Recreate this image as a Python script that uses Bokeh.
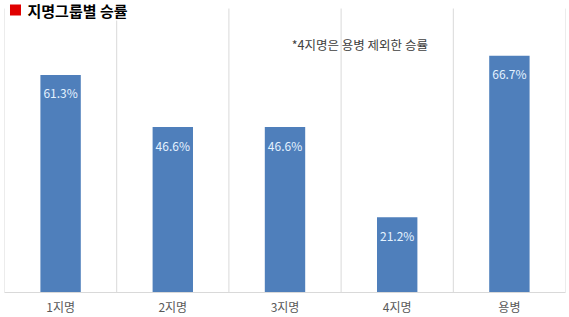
from bokeh.plotting import figure
from bokeh.models import ColumnDataSource, FixedTicker, Label, Range1d
from bokeh.core.properties import value
from bokeh.embed import file_html
from bokeh.resources import INLINE

categories = ["1지명", "2지명", "3지명", "4지명", "용병"]
win_rates = [61.3, 46.6, 46.6, 21.2, 66.7]
rate_labels = ["61.3%", "46.6%", "46.6%", "21.2%", "66.7%"]
title_text = "지명그룹별 승률"
note_text = "*4지명은 용병 제외한 승률"

FONT = "Noto Sans CJK KR"
Y_MAX = 80
Y_TOP = 82.26  # extra head-room above the grid for the title

xs = [i + 0.5 for i in range(len(categories))]
src = ColumnDataSource(dict(x=xs, top=win_rates, label=rate_labels))

p = figure(width=569, height=317, output_backend="svg", toolbar_location=None,
           title=None,
           x_range=Range1d(0, len(categories)), y_range=Range1d(0, Y_TOP),
           min_border_left=4, min_border_right=4, min_border_top=0, min_border_bottom=24)
p.outline_line_color = None
p.background_fill_color = "white"
p.border_fill_color = "white"

# vertical separators between categories
bounds = list(range(len(categories) + 1))
p.segment(x0=bounds, y0=[0] * len(bounds), x1=bounds, y1=[Y_MAX] * len(bounds),
          line_color="#D9D9D9", line_width=1)

p.vbar(x="x", top="top", width=0.36, bottom=0, source=src,
       fill_color="#4F7FBB", line_color=None)

p.text(x="x", y="top", text="label", source=src, y_offset=18,
       text_align="center", text_baseline="middle", text_color="#E4F2FF",
       text_font=value(FONT), text_font_size="12px")

p.xgrid.visible = False
p.ygrid.visible = False

p.yaxis.visible = False
ax = p.xaxis[0]
ax.ticker = FixedTicker(ticks=xs)
ax.major_label_overrides = {x: c for x, c in zip(xs, categories)}
ax.axis_line_color = "#D9D9D9"
ax.major_tick_line_color = None
ax.minor_tick_line_color = None
ax.major_tick_out = 0
ax.major_tick_in = 0
ax.minor_tick_out = 0
ax.minor_tick_in = 0
ax.major_label_text_font = FONT
ax.major_label_text_font_size = "12px"
ax.major_label_text_color = "#595959"
ax.major_label_standoff = 5

# title with red square marker
p.rect(x=[0.098], y=[Y_TOP - 9.5 / 3.54], width=11, height=11,
       width_units="screen", height_units="screen",
       fill_color="#E00000", line_color=None)
p.add_layout(Label(x=0.205, y=Y_TOP - 9.5 / 3.54, text=title_text,
                   text_font=FONT, text_font_size="15px", text_font_style="bold",
                   text_color="#000000", text_baseline="middle", text_align="left",
                   background_fill_color="white"))

p.add_layout(Label(x=2.56, y=Y_TOP - 44 / 3.54, text=note_text,
                   text_font=FONT, text_font_size="12.5px", text_color="#404040",
                   text_baseline="middle", text_align="left"))

open("out.html", "w").write(file_html(p, INLINE))
